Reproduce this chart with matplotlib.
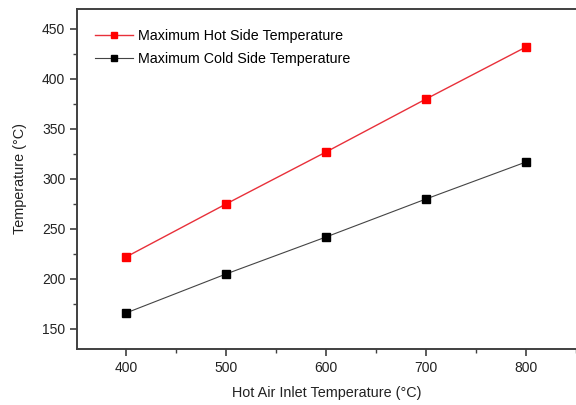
import matplotlib
matplotlib.use("Agg")
import matplotlib.pyplot as plt
from matplotlib.ticker import MultipleLocator

plt.rcParams['font.family'] = ['Liberation Sans', 'DejaVu Sans']

inlet_temp = [400, 500, 600, 700, 800]
hot_side = [222, 275, 327, 380, 432]
cold_side = [166, 205, 242, 280, 317]

fig = plt.figure(figsize=(5.76, 4.05), dpi=100)
ax = fig.add_axes([77/576, 1 - 349/405, 1.0 - 77/576, 340/405])

ax.plot(inlet_temp, hot_side, color='#e8303a', lw=1.0, marker='s', ms=5.3,
        mfc='#ff0000', mec='#ff0000', label='Maximum Hot Side Temperature')
ax.plot(inlet_temp, cold_side, color='#444444', lw=0.8, marker='s', ms=5.3,
        mfc='#000000', mec='#000000', label='Maximum Cold Side Temperature')

ax.set_xlim(351, 850)
ax.set_ylim(130, 470)
ax.xaxis.set_minor_locator(MultipleLocator(50))
ax.yaxis.set_minor_locator(MultipleLocator(25))
ax.set_yticks(range(150, 451, 50))
ax.set_xticks(range(400, 801, 100))

ax.tick_params(which='major', direction='out', length=5, width=1.2, labelsize=10,
               colors='#404040', labelcolor='#222222', pad=3.5, top=False, right=False)
ax.tick_params(which='minor', direction='out', length=3, width=1.0, colors='#404040',
               top=False, right=False)
for s in ax.spines.values():
    s.set_linewidth(1.4)
    s.set_color('#404040')
ax.spines['right'].set_visible(False)

ax.set_xlabel('Hot Air Inlet Temperature (°C)', fontsize=10.4, color='#222222', labelpad=8)
ax.set_ylabel('Temperature (°C)', fontsize=10.4, color='#222222', labelpad=11)

ax.legend(loc='upper left', frameon=False, fontsize=10.3, handlelength=2.65,
          handletextpad=0.35, borderaxespad=0, borderpad=0, labelspacing=0.65,
          markerscale=0.85, bbox_to_anchor=(0.036, 0.942))

fig.savefig('out.png', dpi=100)
